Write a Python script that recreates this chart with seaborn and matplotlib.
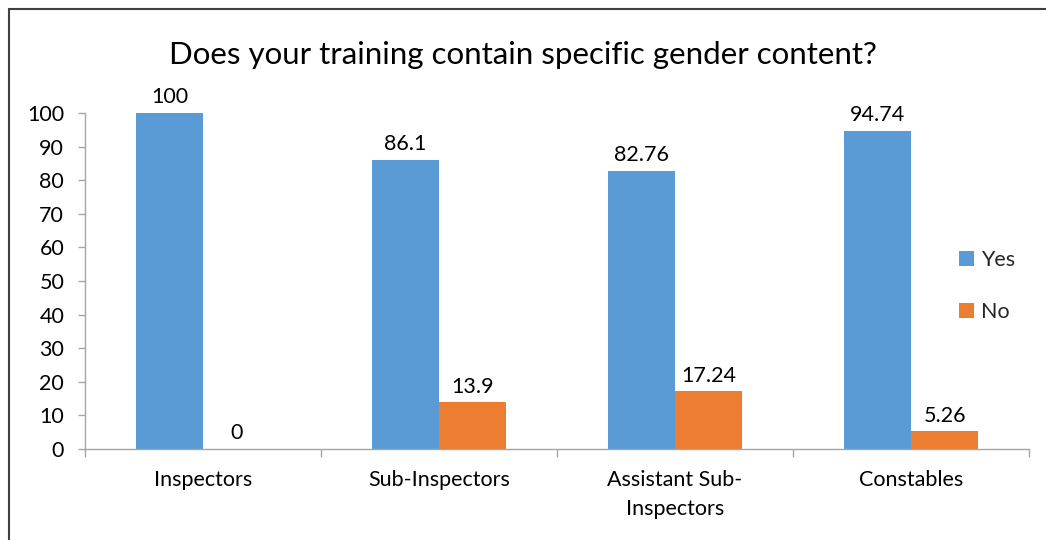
import matplotlib
matplotlib.use("Agg")
import matplotlib.pyplot as plt
import seaborn as sns
import pandas as pd
from matplotlib.lines import Line2D
from matplotlib.ticker import FixedLocator

# data
categories = ["Inspectors", "Sub-Inspectors", "Assistant Sub-\nInspectors", "Constables"]
yes_values = [100, 86.1, 82.76, 94.74]
no_values = [0, 13.9, 17.24, 5.26]
yes_labels = ["100", "86.1", "82.76", "94.74"]
no_labels = ["0", "13.9", "17.24", "5.26"]
series = ["Yes", "No"]
palette = {"Yes": "#5B9BD5", "No": "#ED7D31"}

df = pd.DataFrame({
    "category": categories * 2,
    "answer": ["Yes"] * len(categories) + ["No"] * len(categories),
    "value": yes_values + no_values,
})

sns.set_theme(style="white")
plt.rcParams["font.family"] = ["Lato", "DejaVu Sans"]

fig = plt.figure(figsize=(10.46, 5.40), dpi=100)
ax = fig.add_axes([0.0813, 0.1685, 0.9024, 0.6222])

sns.barplot(data=df, x="category", y="value", hue="answer", hue_order=series,
            palette=palette, width=0.57, gap=0, saturation=1, linewidth=0, ax=ax)

# value labels above bars
for cont, labels in zip(ax.containers, [yes_labels, no_labels]):
    ax.bar_label(cont, labels=labels, padding=4, fontsize=15.5, color="#000000",
                 clip_on=False)

ax.set_ylim(0, 100)
ax.set_xlim(-0.5, len(categories) - 0.5)
ax.set_yticks(range(0, 101, 10))
ax.set_xlabel("")
ax.set_ylabel("")

# excel-style axes: gray lines, ticks outward, category boundaries marked
for side in ["top", "right"]:
    ax.spines[side].set_visible(False)
for side in ["left", "bottom"]:
    ax.spines[side].set_color("#A6A6A6")
    ax.spines[side].set_linewidth(1)
ax.tick_params(axis="y", which="major", direction="out", length=5, width=1,
               color="#A6A6A6", pad=10, labelsize=15.5, labelcolor="#000000", left=True)
ax.tick_params(axis="x", which="major", length=0, pad=15, labelsize=15.5,
               labelcolor="#000000")
for lbl in ax.get_xticklabels():
    lbl.set_linespacing(1.6)
ax.xaxis.set_minor_locator(FixedLocator([i - 0.5 for i in range(len(categories) + 1)]))
ax.tick_params(axis="x", which="minor", direction="out", length=6, width=1,
               color="#A6A6A6", bottom=True)

leg = ax.legend(loc="center left", bbox_to_anchor=(0.905, 0.485), frameon=False,
                fontsize=15.5, handlelength=0.7, handleheight=0.7,
                handletextpad=0.35, labelspacing=1.45)

fig.text(0.5, 0.898, "Does your training contain specific gender content?",
         ha="center", va="center", fontsize=22.5, color="#000000")

# chart border (left and top edges show in the crop)
fig.add_artist(Line2D([0.0086, 0.0086], [0.0, 0.984], color="#404040", lw=1.5))
fig.add_artist(Line2D([0.0086, 1.0], [0.984, 0.984], color="#404040", lw=1.5))

fig.savefig("out.png", dpi=100, facecolor="white")
